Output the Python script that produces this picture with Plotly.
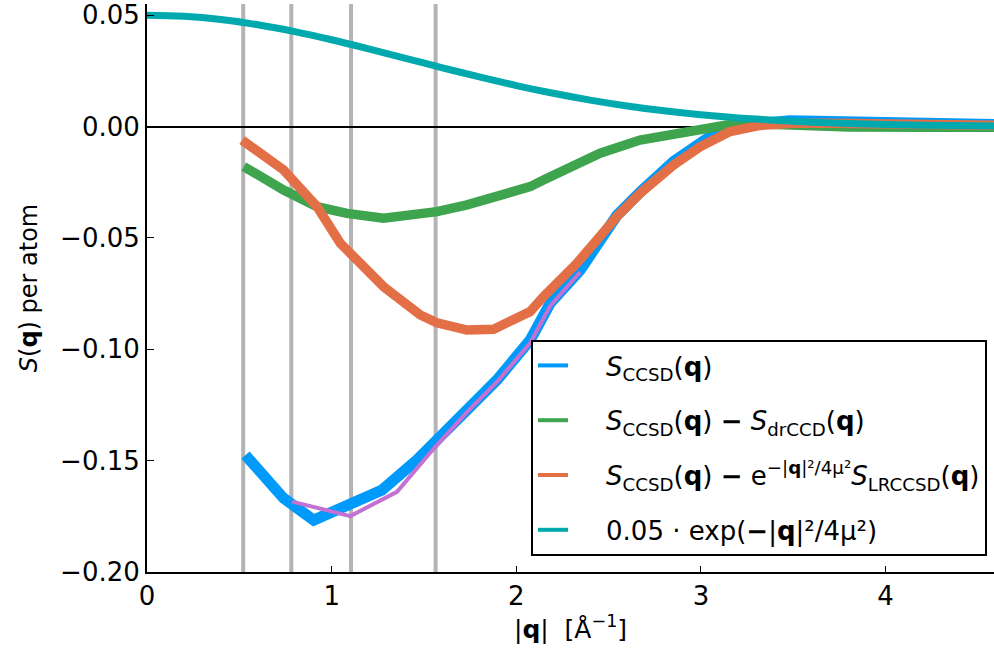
import plotly.graph_objects as go

# ---- data ----
q_ccsd = [0.533, 0.740, 0.903, 1.065, 1.273, 1.462, 1.552, 1.733, 1.895, 2.075, 2.183, 2.346,
          2.454, 2.544, 2.670, 2.851, 3.067, 3.266, 3.482, 3.699, 3.900, 4.200, 4.590]
s_ccsd = [-0.1475, -0.1669, -0.1767, -0.1707, -0.1632, -0.1497, -0.1422, -0.1273, -0.1138,
          -0.0959, -0.0794, -0.0645, -0.0515, -0.0400, -0.0295, -0.0157, -0.0035, 0.0010,
          0.0026, 0.0022, 0.0016, 0.0012, 0.0009]

q_sub = [0.786, 1.101, 1.354, 1.552, 1.733, 1.895, 2.075, 2.183, 2.346]
s_sub = [-0.1684, -0.1749, -0.1640, -0.1447, -0.1282, -0.1147, -0.0972, -0.0806, -0.0653]

q_dr = [0.524, 0.740, 0.921, 1.083, 1.281, 1.480, 1.570, 1.733, 1.877, 2.075, 2.147, 2.292,
        2.454, 2.670, 2.851, 3.140, 3.320, 3.500, 3.800, 4.200, 4.590]
s_dr = [-0.0180, -0.0285, -0.0360, -0.0390, -0.0412, -0.0397, -0.0382, -0.0352, -0.0315,
        -0.0270, -0.0240, -0.0180, -0.0120, -0.0061, -0.0031, 0.0007, 0.0012, 0.0003,
        -0.0002, -0.0003, -0.0003]

q_lr = [0.515, 0.740, 0.921, 1.047, 1.281, 1.480, 1.570, 1.733, 1.877, 2.075, 2.147, 2.238,
        2.328, 2.436, 2.544, 2.670, 2.851, 2.995, 3.157, 3.320, 3.500, 3.700, 4.000, 4.300, 4.590]
s_lr = [-0.0061, -0.0195, -0.0360, -0.0524, -0.0719, -0.0846, -0.0881, -0.0914, -0.0910,
        -0.0831, -0.0764, -0.0689, -0.0614, -0.0510, -0.0405, -0.0300, -0.0173, -0.0091,
        -0.0023, 0.0005, 0.0015, 0.0015, 0.0012, 0.0008, 0.0006]

q_env = [0.0, 0.2, 0.4, 0.6, 0.8, 1.0, 1.2, 1.4, 1.6, 1.8, 2.0, 2.2, 2.4, 2.6, 2.8, 3.0,
         3.2, 3.4, 3.6, 3.8, 4.0, 4.2, 4.4, 4.6]
s_env = [0.05000, 0.04950, 0.04804, 0.04570, 0.04261, 0.03894, 0.03488, 0.03063, 0.02636,
         0.02224, 0.01839, 0.01491, 0.01185, 0.00923, 0.00704, 0.00527, 0.00387, 0.00278,
         0.00196, 0.00135, 0.00092, 0.00061, 0.00040, 0.00025]

vline_q = [0.521, 0.7815, 1.105, 1.563]

x_ticks = [0, 1, 2, 3, 4]
y_ticks = [-0.20, -0.15, -0.10, -0.05, 0.00, 0.05]
x_range = [0, 4.587]
y_range = [-0.2, 0.055]

NB = "\u00a0\u00a0\u00a0\u00a0"
names = [
    NB + "<i>S</i><sub>CCSD</sub>(<b>q</b>)",
    NB + "<i>S</i><sub>CCSD</sub>(<b>q</b>) <b>−</b> <i>S</i><sub>drCCD</sub>(<b>q</b>)",
    NB + "<i>S</i><sub>CCSD</sub>(<b>q</b>) <b>−</b> e<sup>−|<b>q</b>|²/4μ²</sup><i>S</i><sub>LRCCSD</sub>(<b>q</b>)",
    NB + "0.05 · exp(<b>−</b>|<b>q</b>|²/4μ²)",
]

BLUE = "#009AFA"
ORANGE = "#E36F47"
GREEN = "#3EA44E"
PURPLE = "#C371D2"
CYAN = "#00A9AD"
FONT = "DejaVu Sans"

fig = go.Figure()

fig.add_trace(go.Scatter(x=q_ccsd, y=s_ccsd, mode="lines", line=dict(color=BLUE, width=11),
                         showlegend=False, legendgroup="a"))
fig.add_trace(go.Scatter(x=q_sub, y=s_sub, mode="lines", line=dict(color=PURPLE, width=4),
                         showlegend=False))
fig.add_trace(go.Scatter(x=q_dr, y=s_dr, mode="lines", line=dict(color=GREEN, width=9.5),
                         showlegend=False, legendgroup="b"))
fig.add_trace(go.Scatter(x=q_lr, y=s_lr, mode="lines", line=dict(color=ORANGE, width=9.5),
                         showlegend=False, legendgroup="c"))
fig.add_trace(go.Scatter(x=q_env, y=s_env, mode="lines", line=dict(color=CYAN, width=7, shape="spline"),
                         showlegend=False, legendgroup="d"))

# legend entries with thin line samples
for nm, col, grp in zip(names, [BLUE, GREEN, ORANGE, CYAN], ["a", "b", "c", "d"]):
    fig.add_trace(go.Scatter(x=[None], y=[None], mode="lines", name=nm,
                             line=dict(color=col, width=4), legendgroup=grp))

for v in vline_q:
    fig.add_shape(type="line", xref="x", yref="y", x0=v, x1=v, y0=y_range[0], y1=y_range[1],
                  line=dict(color="#b4b4b4", width=4), layer="below")

fig.update_layout(
    width=994, height=656,
    margin=dict(l=147, r=0, t=4, b=84, autoexpand=False),
    paper_bgcolor="white", plot_bgcolor="white",
    font=dict(family=FONT, size=26, color="black"),
    legend=dict(x=(531 - 147) / 847, y=(572 - 340) / 568, xanchor="left", yanchor="top",
                bgcolor="white", bordercolor="black", borderwidth=2,
                font=dict(family=FONT, size=26, color="black"),
                tracegroupgap=18, itemwidth=30),
)
fig.update_xaxes(range=x_range, tickvals=x_ticks, ticktext=[str(t) for t in x_ticks],
                 automargin=False,
                 showgrid=False, zeroline=False, showline=True, linecolor="black", linewidth=2,
                 ticks="inside", ticklen=6, tickwidth=1, tickcolor="black",
                 tickfont=dict(family=FONT, size=26),
                 title=dict(text="|<b>q</b>|  [Å<sup>−1</sup>]", font=dict(family=FONT, size=25),
                            standoff=10))
fig.update_yaxes(range=y_range, tickvals=y_ticks, ticktext=[f"{t:.2f}".replace("-", "−") for t in y_ticks],
                 automargin=False, ticklabeloverflow="allow",
                 showgrid=False, zeroline=True, zerolinecolor="black", zerolinewidth=2,
                 showline=True, linecolor="black", linewidth=2,
                 ticks="inside", ticklen=7, tickwidth=1, tickcolor="black",
                 tickfont=dict(family=FONT, size=26), ticklabelstandoff=0,
                 title=dict(text="<i>S</i>(<b>q</b>) per atom", font=dict(family=FONT, size=24),
                            standoff=16))

# remove the browser's default 8px body margin so the figure fills the window
fig.write_html("out.html", config={"displayModeBar": False},
               post_script="document.body.style.margin='0';")
